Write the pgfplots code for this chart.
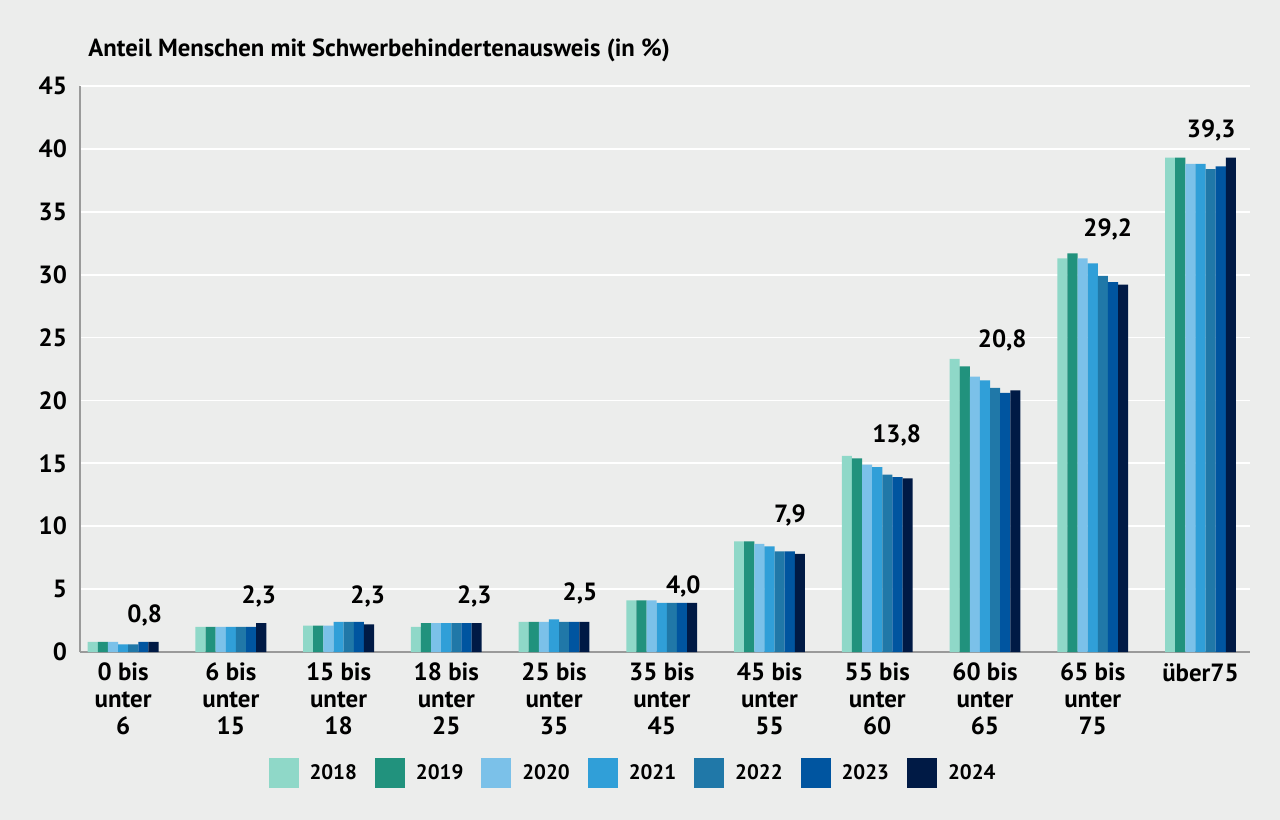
\documentclass[border=0pt]{standalone}
\usepackage{fontspec}
\setmainfont{PT Sans}
\usepackage{pgfplots}
\pgfplotsset{compat=1.18}

\definecolor{bgcol}{HTML}{ECEDEC}
\definecolor{axisgray}{HTML}{9A9A9A}
\definecolor{c18}{HTML}{8FD8C8}
\definecolor{c19}{HTML}{21927D}
\definecolor{c20}{HTML}{7BC1E9}
\definecolor{c21}{HTML}{309FD8}
\definecolor{c22}{HTML}{2078A8}
\definecolor{c23}{HTML}{0055A0}
\definecolor{c24}{HTML}{001A45}

\begin{document}
\begin{tikzpicture}
\path[use as bounding box, fill=bgcol] (-40bp,-84bp) rectangle (600bp,326bp);
\begin{axis}[
    ,at={(0,0)},anchor=south west
    ,scale only axis,width=585bp,height=283bp
    ,xmin=-0.4,xmax=10.46,ymin=0,ymax=45
    ,axis x line*=bottom,axis y line*=left
    ,axis line style={-,draw=axisgray,line width=0.6bp}
    ,ytick={0,5,...,45}
    ,xtick={0,...,10}
    ,xticklabels={{0 bis\\unter\\6},{6 bis\\unter\\15},{15 bis\\unter\\18},{18 bis\\unter\\25},{25 bis\\unter\\35},{35 bis\\unter\\45},{45 bis\\unter\\55},{55 bis\\unter\\60},{60 bis\\unter\\65},{65 bis\\unter\\75},{über75}}
    ,major tick length=0pt
    ,ymajorgrids,grid style={white,line width=0.9bp}
    ,tick label style={font=\fontsize{12.5}{13.5}\selectfont\bfseries}
    ,xticklabel style={align=center,anchor=north,yshift=-2bp}
    ,yticklabel style={xshift=-3bp}
    ,/pgf/number format/assume math mode=true
    ,clip=false
    ,legend style={at={(rel axis cs:0.4735,-0.214)},anchor=center,draw=none,fill=none,
        font=\fontsize{10.5}{12}\selectfont\bfseries,
        /tikz/every odd column/.append style={column sep=3.5bp},
        /tikz/every even column/.append style={column sep=7bp}}
    ,legend columns=-1
    ,legend image code/.code={\fill[#1,draw=none] (0bp,-7.5bp) rectangle (15bp,7.5bp);}
    ]
\addplot[ybar,bar width=0.094,bar shift=-0.282,fill=c18,draw=none] coordinates {(0,0.8) (1,2.0) (2,2.1) (3,2.0) (4,2.4) (5,4.1) (6,8.8) (7,15.6) (8,23.3) (9,31.3) (10,39.3)};
\addplot[ybar,bar width=0.094,bar shift=-0.188,fill=c19,draw=none] coordinates {(0,0.8) (1,2.0) (2,2.1) (3,2.3) (4,2.4) (5,4.1) (6,8.8) (7,15.4) (8,22.7) (9,31.7) (10,39.3)};
\addplot[ybar,bar width=0.094,bar shift=-0.094,fill=c20,draw=none] coordinates {(0,0.8) (1,2.0) (2,2.1) (3,2.3) (4,2.4) (5,4.1) (6,8.6) (7,14.9) (8,21.9) (9,31.3) (10,38.8)};
\addplot[ybar,bar width=0.094,bar shift=0,fill=c21,draw=none] coordinates {(0,0.6) (1,2.0) (2,2.4) (3,2.3) (4,2.6) (5,3.9) (6,8.4) (7,14.7) (8,21.6) (9,30.9) (10,38.8)};
\addplot[ybar,bar width=0.094,bar shift=0.094,fill=c22,draw=none] coordinates {(0,0.6) (1,2.0) (2,2.4) (3,2.3) (4,2.4) (5,3.9) (6,8.0) (7,14.1) (8,21.0) (9,29.9) (10,38.4)};
\addplot[ybar,bar width=0.094,bar shift=0.188,fill=c23,draw=none] coordinates {(0,0.8) (1,2.0) (2,2.4) (3,2.3) (4,2.4) (5,3.9) (6,8.0) (7,13.9) (8,20.6) (9,29.4) (10,38.6)};
\addplot[ybar,bar width=0.094,bar shift=0.282,fill=c24,draw=none] coordinates {(0,0.8) (1,2.3) (2,2.2) (3,2.3) (4,2.4) (5,3.9) (6,7.8) (7,13.8) (8,20.8) (9,29.2) (10,39.3)};
\legend{2018,2019,2020,2021,2022,2023,2024}

% value labels
\begin{scope}[every node/.style={font=\fontsize{12.5}{13.5}\selectfont\bfseries}]
\node at (axis cs:0.20,2.93) {0,8};
\node at (axis cs:1.26,4.44) {2,3};
\node at (axis cs:2.27,4.44) {2,3};
\node at (axis cs:3.26,4.44) {2,3};
\node at (axis cs:4.24,4.65) {2,5};
\node at (axis cs:5.20,5.24) {4,0};
\node at (axis cs:6.19,10.85) {7,9};
\node at (axis cs:7.18,17.2) {13,8};
\node at (axis cs:8.16,24.8) {20,8};
\node at (axis cs:9.14,33.6) {29,2};
\node at (axis cs:10.10,41.5) {39,3};
\end{scope}

% title
\node[anchor=base west,font=\fontsize{12.4}{14}\selectfont\bfseries,inner sep=0pt]
  at (rel axis cs:0,1) [xshift=4bp,yshift=15bp] {Anteil Menschen mit Schwerbehindertenausweis (in \%)};
\end{axis}
\end{tikzpicture}
\end{document}
